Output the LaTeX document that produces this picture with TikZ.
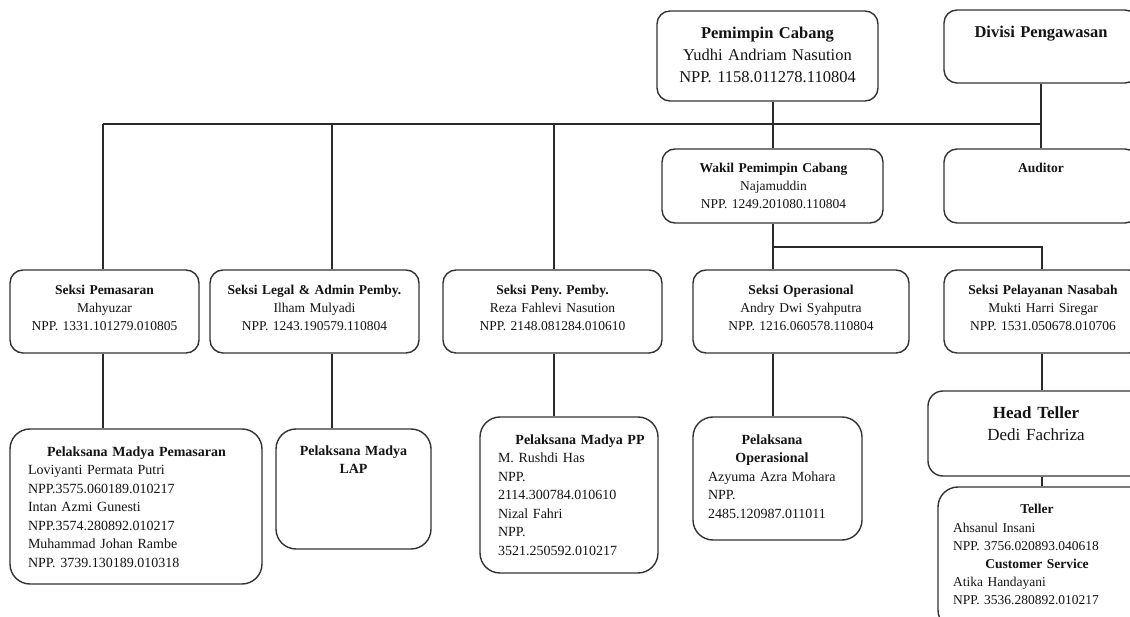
\documentclass[tikz,border=0pt]{standalone}
\usepackage{fontspec}
\setmainfont{Liberation Serif}
\usetikzlibrary{positioning,calc}
\definecolor{orgEdge}{HTML}{333333}
\definecolor{orgLine}{HTML}{2A2A2A}
\definecolor{orgText}{HTML}{141414}
\tikzset{
  orgbox/.style={draw=orgEdge,line width=1.4pt,rounded corners=13pt,inner sep=0pt,fill=white},
  orgbig/.style={orgbox,rounded corners=20pt},
  orgtxt/.style={text=orgText,inner sep=0pt,align=center,font=\fontsize{13.5}{18}\selectfont\frenchspacing},
  orgtxtL/.style={orgtxt,font=\fontsize{16.5}{22}\selectfont\frenchspacing},
  orglist/.style={orgtxt,align=left,font=\fontsize{14}{18.5}\selectfont\frenchspacing},
  orglink/.style={draw=orgLine,line width=1.3pt},
}

\begin{document}
\begin{tikzpicture}[x=1pt,y=-1pt]
  \useasboundingbox (0,0) rectangle (1130,617);
  \clip (0,0) rectangle (1130,617);

  % boxes
  \node[orgbox,minimum width=221,minimum height=90] (pc) at (767.5,56) {};
  \node[orgbox,minimum width=194,minimum height=73] (dp) at (1041,46.5) {};
  \node[orgbox,minimum width=221,minimum height=74] (wk) at (772.5,186) {};
  \node[orgbox,minimum width=194,minimum height=74] (au) at (1041,186) {};
  \node[orgbox,minimum width=189,minimum height=83] (s1) at (104.5,311.5) {};
  \node[orgbox,minimum width=209,minimum height=83] (s2) at (314.5,311.5) {};
  \node[orgbox,minimum width=219,minimum height=83] (s3) at (552.5,311.5) {};
  \node[orgbox,minimum width=216,minimum height=83] (s4) at (801,311.5) {};
  \node[orgbox,minimum width=198,minimum height=83] (s5) at (1043,311.5) {};
  \node[orgbig,minimum width=252,minimum height=155] (p1) at (136,506.5) {};
  \node[orgbig,minimum width=155,minimum height=120] (p2) at (353.5,489) {};
  \node[orgbig,minimum width=178,minimum height=156] (p3) at (569,495) {};
  \node[orgbig,minimum width=169,minimum height=123] (p4) at (777.5,478.5) {};
  \node[orgbox,rounded corners=15pt,minimum width=222,minimum height=85] (ht) at (1039,433.5) {};
  \node[orgbig,minimum width=212,minimum height=143] (tl) at (1044,558.5) {};

  % texts
  \node[orgtxtL,text width=215,below=17pt of pc.north] (pcT) {\textbf{Pemimpin Cabang}\\Yudhi Andriam Nasution\\NPP. 1158.011278.110804};
  \node[orgtxtL,text width=190,below=17pt of dp.north] (dpT) {\textbf{Divisi Pengawasan}};
  \node[orgtxt,text width=215,below=15pt of wk.north,xshift=1pt] (wkT) {\textbf{Wakil Pemimpin Cabang}\\Najamuddin\\NPP. 1249.201080.110804};
  \node[orgtxt,text width=190,below=15pt of au.north] (auT) {\textbf{Auditor}};
  \node[orgtxt,text width=185,below=16pt of s1.north] (s1T) {\textbf{Seksi Pemasaran}\\Mahyuzar\\NPP. 1331.101279.010805};
  \node[orgtxt,text width=205,below=16pt of s2.north] (s2T) {\textbf{Seksi Legal \& Admin Pemby.}\\Ilham Mulyadi\\NPP. 1243.190579.110804};
  \node[orgtxt,text width=215,below=16pt of s3.north] (s3T) {\textbf{Seksi Peny. Pemby.}\\Reza Fahlevi Nasution\\NPP. 2148.081284.010610};
  \node[orgtxt,text width=210,below=16pt of s4.north] (s4T) {\textbf{Seksi Operasional}\\Andry Dwi Syahputra\\NPP. 1216.060578.110804};
  \node[orgtxt,text width=194,below=16pt of s5.north] (s5T) {\textbf{Seksi Pelayanan Nasabah}\\Mukti Harri Siregar\\NPP. 1531.050678.010706};
  \node[orglist,text width=217,below=18pt of p1.north,xshift=0.5pt] (p1T) {{\centering\textbf{Pelaksana Madya Pemasaran}\par}Loviyanti Permata Putri\\NPP.3575.060189.010217\\Intan Azmi Gunesti\\NPP.3574.280892.010217\\Muhammad Johan Rambe\\NPP. 3739.130189.010318};
  \node[orgtxt,text width=150,below=17pt of p2.north,font=\fontsize{14}{18.5}\selectfont] (p2T) {\textbf{Pelaksana Madya}\\\textbf{LAP}};
  \node[orglist,text width=164,below=18pt of p3.north,xshift=11pt] (p3T) {{\centering\textbf{Pelaksana Madya PP}\par}M. Rushdi Has\\NPP.\\2114.300784.010610\\Nizal Fahri\\NPP.\\3521.250592.010217};
  \node[orglist,text width=128,below=18pt of p4.north,xshift=-5.5pt] (p4T) {{\centering\textbf{Pelaksana}\\\textbf{Operasional}\par}Azyuma Azra Mohara\\NPP.\\2485.120987.011011};
  \node[orgtxt,text width=200,below=16pt of ht.north,xshift=-3pt,font=\fontsize{17}{22}\selectfont] (htT) {\textbf{Head Teller}\\Dedi Fachriza};
  \node[orglist,text width=168,below=18pt of tl.north,xshift=-7pt,font=\fontsize{13.5}{18.2}\selectfont\frenchspacing] (tlT) {{\centering\textbf{Teller}\par}Ahsanul Insani\\NPP. 3756.020893.040618\\{\centering\textbf{Customer Service}\par}Atika Handayani\\NPP. 3536.280892.010217};

  % connector columns
  \coordinate (k1) at (103,124);
  \coordinate (k2) at (332,124);
  \coordinate (k3) at (554,124);
  \coordinate (k4) at (773,124);
  \coordinate (k5) at (1041,124);
  \coordinate (m4) at (773,247);
  \coordinate (m5) at (1042,247);

  \draw[orglink] (k1) -- (k5);
  \draw[orglink] (k4 |- pc.south) -- (k4 |- wk.north);
  \draw[orglink] (k5 |- dp.south) -- (k5 |- au.north);
  \foreach \k/\up/\dn in {k1/s1/p1,k2/s2/p2,k3/s3/p3}{
    \draw[orglink] (\k) -- (\k |- \up.north);
    \draw[orglink] (\k |- \up.south) -- (\k |- \dn.north);}
  \draw[orglink] (k4 |- wk.south) -- (k4 |- s4.north);
  \draw[orglink] (k4 |- s4.south) -- (k4 |- p4.north);
  \draw[orglink] (m4) -- (m5) -- (m5 |- s5.north);
  \draw[orglink] (m5 |- s5.south) -- (m5 |- ht.north);
  \draw[orglink] (m5 |- ht.south) -- (m5 |- tl.north);
\end{tikzpicture}
\end{document}
